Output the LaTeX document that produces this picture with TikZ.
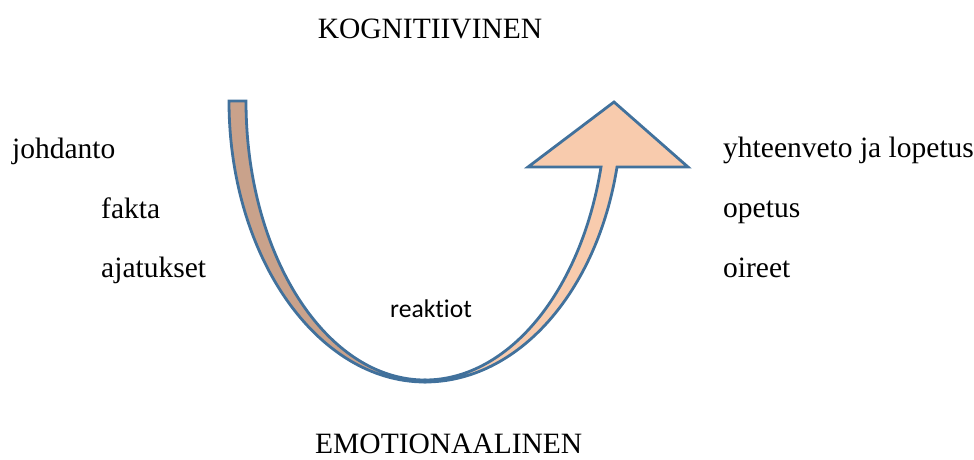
\documentclass[tikz,border=0pt]{standalone}
\usepackage{fontspec}
\setmainfont{Liberation Serif}
\newfontfamily\calibri[Ligatures=NoCommon]{Carlito}
\definecolor{rim}{HTML}{41719C}
\definecolor{backtan}{HTML}{C9A28B}
\definecolor{peach}{HTML}{F8CBAD}
\begin{document}
\begin{tikzpicture}[x=1pt,y=-1pt,
  txt/.style={inner sep=0pt, font=\fontsize{29.5}{35}\selectfont},
  band/.style={draw=rim, line width=2.8pt}]
\useasboundingbox (0,0) rectangle (974,460);

\node[txt, anchor=base] (kog) at (430,38) {KOGNITIIVINEN};
\node[txt, anchor=base west] (emo) at (315,453) {EMOTIONAALINEN};

\node[txt, anchor=base west] (johd) at (12,158) {johdanto};
\node[txt, anchor=base west] (fakta) at (101,218) {fakta};
\node[txt, anchor=base west] (ajat) at (101,277) {ajatukset};

\node[txt, anchor=base west] (yht) at (723,157) {yhteenveto ja lopetus};
\node[txt, anchor=base west] (opet) at (723,217) {opetus};
\node[txt, anchor=base west] (oir) at (723,277) {oireet};

\node[inner sep=0pt, anchor=base west, font=\calibri\fontsize{25.6}{30}\selectfont] (reak) at (390,317) {reaktiot};

\coordinate (bot) at (425,382);
\coordinate (boti) at (425,380);

\filldraw[band, fill=backtan] (229,101) .. controls (229,256) and (317,382) .. (bot)
  -- (boti) .. controls (326,380) and (246,255) .. (246,101) -- cycle;
\filldraw[band, fill=peach] (bot) .. controls (518,382) and (597,292) .. (617,167)
  -- (688,167) -- (614,102) -- (528,167) -- (601,167)
  .. controls (581,292) and (508,380) .. (boti) -- cycle;
\end{tikzpicture}
\end{document}
